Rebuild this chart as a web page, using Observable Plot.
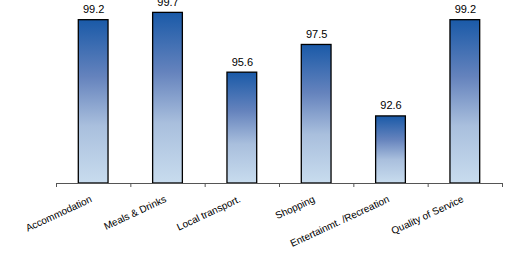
<!DOCTYPE html>
<html>
<head>
<meta charset="utf-8">
<script src="https://cdn.jsdelivr.net/npm/d3@7"></script>
<script src="https://cdn.jsdelivr.net/npm/@observablehq/plot@0.6"></script>
<style>
  html, body { margin: 0; padding: 0; background: #fff; }
  svg { display: block; }
</style>
</head>
<body>
<div id="chart"></div>
<script>
const categories = ["Accommodation", "Meals & Drinks", "Local transport.", "Shopping", "Entertainmt. /Recreation", "Quality of Service"];
const values = [99.2, 99.7, 95.6, 97.5, 92.6, 99.2];
const yMin = 88;
const yMax = 100;

const data = categories.map((c, i) => ({category: c, value: values[i], i}));
const boundaries = d3.range(categories.length + 1);

const chart = Plot.plot({
  width: 508,
  height: 254,
  marginLeft: 56,
  marginRight: 6,
  marginTop: 8,
  marginBottom: 71,
  style: {fontFamily: "Liberation Sans, Arial, sans-serif", background: "#fff"},
  x: {domain: [0, categories.length], axis: null},
  y: {domain: [yMin, yMax], axis: null},
  marks: [
    Plot.rectY(data, {
      x1: d => d.i + 0.3,
      x2: d => d.i + 0.7,
      y1: yMin,
      y2: "value",
      fill: "url(#barGrad)",
      stroke: "#000",
      strokeWidth: 1.3
    }),
    Plot.ruleY([yMin], {x1: 0, x2: categories.length, stroke: "#555", strokeWidth: 1}),
    Plot.axisX({ticks: boundaries, tickFormat: () => "", tickSize: 4, stroke: "#555", strokeOpacity: 1, strokeWidth: 1}),
    Plot.text(data, {
      x: d => d.i + 0.5,
      y: "value",
      text: d => d.value.toFixed(1),
      lineAnchor: "bottom",
      dy: -7,
      fontSize: 11,
      fill: "#000"
    }),
    Plot.text(data, {
      x: d => d.i + 0.5,
      frameAnchor: "bottom",
      text: "category",
      textAnchor: "end",
      lineAnchor: "bottom",
      rotate: -25,
      dx: -1,
      dy: 18,
      fontSize: 10,
      fill: "#000"
    })
  ]
});

// gradient definition for the bars
const ns = "http://www.w3.org/2000/svg";
const defs = document.createElementNS(ns, "defs");
const grad = document.createElementNS(ns, "linearGradient");
grad.setAttribute("id", "barGrad");
grad.setAttribute("x1", "0"); grad.setAttribute("y1", "0");
grad.setAttribute("x2", "0"); grad.setAttribute("y2", "1");
[[0, "#1a5aa8"], [0.35, "#6583bd"], [0.65, "#a9bfdd"], [1, "#c8dcee"]].forEach(([o, c]) => {
  const s = document.createElementNS(ns, "stop");
  s.setAttribute("offset", o);
  s.setAttribute("stop-color", c);
  grad.appendChild(s);
});
defs.appendChild(grad);
chart.insertBefore(defs, chart.firstChild);

document.getElementById("chart").appendChild(chart);
</script>
</body>
</html>
